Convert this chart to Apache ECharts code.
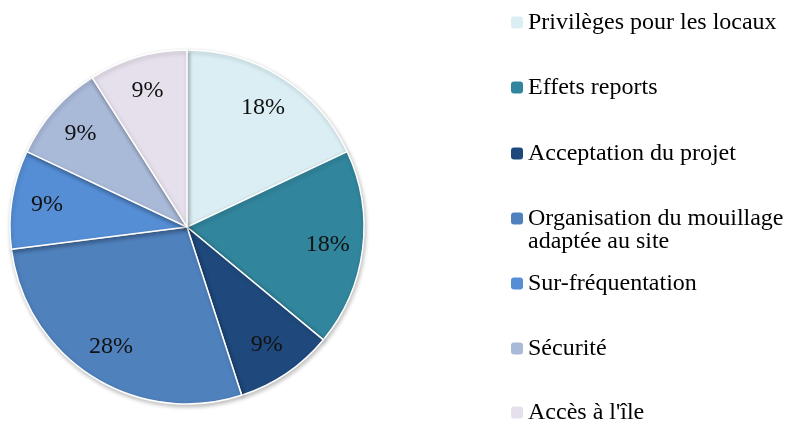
<!DOCTYPE html>
<html>
<head>
<meta charset="utf-8">
<script src="https://cdn.jsdelivr.net/npm/echarts@6/dist/echarts.min.js"></script>
<style>
  html, body { margin: 0; padding: 0; background: #fff; }
  #chart { width: 803px; height: 423px; }
</style>
</head>
<body>
<div id="chart"></div>
<script>
// categories (legend order = slice order, clockwise from 12 o'clock)
var categories = [
  'Privilèges pour les locaux',
  'Effets reports',
  'Acceptation du projet',
  'Organisation du mouillage adaptée au site',
  'Sur-fréquentation',
  'Sécurité',
  "Accès à l'île"
];
// percentages shown on the slices
var values = [18, 18, 9, 28, 9, 9, 9];
var colors = ['#DAEEF3', '#31859C', '#1F497D', '#4F81BD', '#558ED5', '#A9B9D8', '#E6E0EC'];

var font = '"Liberation Serif", "DejaVu Serif", serif';
var pieCenter = [187, 227];
var legendTops = [22, 87, 153, 218, 283, 348, 412];
var lineH = 23;

var chart = echarts.init(document.getElementById('chart'));

var legends = categories.map(function (name, i) {
  var wrapped = (i === 3);
  // item box is centred on the icon; the wrapped entry gets an empty first line
  var half = wrapped ? lineH * 1.5 : lineH / 2;
  return {
    orient: 'vertical',
    left: 511,
    top: legendTops[i] - half,
    padding: 0,
    itemWidth: 12,
    itemHeight: 12,
    itemStyle: { borderWidth: 0 },
    selectedMode: false,
    data: [name],
    formatter: function (n) {
      if (wrapped) return ' \nOrganisation du mouillage\nadaptée au site';
      return n;
    },
    textStyle: {
      fontFamily: font,
      fontSize: 24,
      lineHeight: lineH,
      color: '#000'
    }
  };
});

var option = {
  backgroundColor: '#fff',
  color: colors,
  animation: false,
  legend: legends,
  series: [
    {
      type: 'pie',
      center: pieCenter,
      radius: [0, 177],
      startAngle: 90,
      clockwise: true,
      data: categories.map(function (name, i) {
        return { name: name, value: values[i] };
      }),
      itemStyle: {
        borderColor: '#fff',
        borderWidth: 1.5,
        shadowBlur: 4,
        shadowOffsetX: 1,
        shadowOffsetY: 2,
        shadowColor: 'rgba(0,0,0,0.25)'
      },
      label: {
        show: true,
        position: 'inside',
        formatter: '{c}%',
        fontFamily: font,
        fontSize: 24,
        color: '#111'
      },
      labelLine: { show: false },
      // push the inside labels out towards the rim like the original
      labelLayout: function (params) {
        var r = params.labelRect;
        var cx = r.x + r.width / 2;
        var cy = r.y + r.height / 2;
        var k = 1.55;
        return {
          x: pieCenter[0] + (cx - pieCenter[0]) * k,
          y: pieCenter[1] + (cy - pieCenter[1]) * k
        };
      }
    }
  ]
};

chart.setOption(option);
</script>
</body>
</html>
